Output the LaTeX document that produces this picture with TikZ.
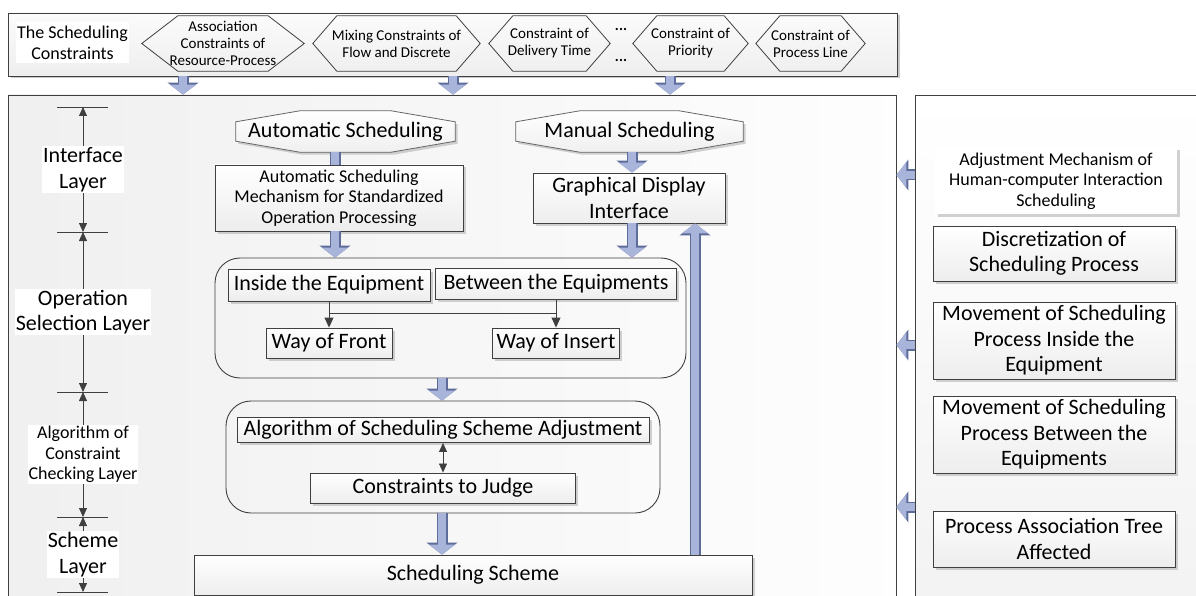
\documentclass[tikz,border=0pt]{standalone}
\usepackage{fontspec}
\setmainfont{Carlito}
\usetikzlibrary{arrows.meta,shadows,backgrounds}

\definecolor{blkfill}{HTML}{A9B4DA}
\definecolor{blkedge}{HTML}{5E6C9C}
\definecolor{lncol}{HTML}{3F3F3F}

\newcommand{\fbig}{\fontsize{22}{25.5}\selectfont}
\newcommand{\fmid}{\fontsize{18}{20.5}\selectfont}
\newcommand{\fsml}{\fontsize{15}{17}\selectfont}

% pointed hexagon round a node
\newcommand{\hexa}[2]{\draw[hexline] (#1.west) -- ([xshift=#2]#1.north west) -- ([xshift=-#2]#1.north east) -- (#1.east) -- ([xshift=-#2]#1.south east) -- ([xshift=#2]#1.south west) -- cycle;}
% flat octagon behind a node
\newcommand{\octa}[1]{\begin{scope}[on background layer]
\draw[octline] ([xshift=64pt]#1.north west) -- ([xshift=-64pt]#1.north east) -- ([yshift=-11pt]#1.north east) -- ([yshift=11pt]#1.south east) -- ([xshift=-64pt]#1.south east) -- ([xshift=64pt]#1.south west) -- ([yshift=11pt]#1.south west) -- ([yshift=-11pt]#1.north west) -- cycle;
\end{scope}}

\tikzset{
  panel/.style={draw=lncol, line width=0.9pt, inner sep=0pt},
  plainbox/.style={draw=lncol, line width=0.9pt, top color=white, bottom color=gray!14, inner sep=0pt, align=center, font=\fbig,
    drop shadow={shadow xshift=2.5pt, shadow yshift=-2.5pt, fill=gray!70, opacity=.5}},
  rbox/.style={draw=lncol, line width=0.9pt, rounded corners=25pt, inner sep=0pt},
  hexlbl/.style={inner sep=0pt, align=center, font=\fsml, minimum height=55pt},
  lbl/.style={fill=white, inner sep=1pt, align=center, font=\fbig},
  dimline/.style={draw=lncol, line width=0.8pt, {Triangle[width=8pt,length=9pt]}-{Triangle[width=8pt,length=9pt]}},
  conn/.style={draw=lncol, line width=0.9pt, -{Triangle[width=9pt,length=10pt]}},
  hexline/.style={draw=lncol, line width=0.8pt},
  octline/.style={draw=lncol!80, line width=0.8pt, top color=white, bottom color=gray!12,
    drop shadow={shadow xshift=2.5pt, shadow yshift=-2.5pt, fill=gray!70, opacity=.5}},
  blk/.style={draw=blkfill, line width=8.5pt, -{Triangle[width=26pt,length=10pt]},
    preaction={draw=blkedge, line width=11pt, -{Triangle[width=30.5pt,length=12pt]}}},
  blkshaft/.style={draw=blkfill, line width=8.5pt, preaction={draw=blkedge, line width=11pt}},
}

\begin{document}
\begin{tikzpicture}[x=1pt,y=-1pt]
\useasboundingbox (0,0) rectangle (1196,596);

% frames
\begin{scope}[on background layer]
\node[panel, top color=gray!3, bottom color=gray!13, minimum width=889pt, minimum height=63pt,
  drop shadow={shadow xshift=2.5pt, shadow yshift=-2.5pt, fill=gray!70, opacity=.6}] (cons) at (452.5,44.5) {};
\node[panel, left color=gray!12, right color=gray!1, minimum width=888pt, minimum height=525pt] (main) at (452,357.5) {};
\node[panel, top color=white, bottom color=gray!10, minimum width=305pt, minimum height=525pt] (side) at (1067.5,357.5) {};
\end{scope}

% the scheduling constraints
\node[lbl, font=\fmid, inner sep=0pt, minimum width=113pt, minimum height=41pt] (title) at (72.5,43) {The Scheduling\\Constraints};
\node[hexlbl, minimum width=162pt] (c1) at (223,43.5) {Association\\Constraints of\\Resource-Process};
\node[hexlbl, minimum width=167pt] (c2) at (396.5,43.5) {Mixing Constraints of\\Flow and Discrete};
\node[hexlbl, minimum width=121pt] (c3) at (549.5,43.5) {Constraint of\\Delivery Time};
\node[font=\fsml\bfseries] (dotsA) at (621,29) {...};
\node[font=\fsml\bfseries] (dotsB) at (621,60) {...};
\node[hexlbl, minimum width=115pt] (c4) at (690.5,43.5) {Constraint of\\Priority};
\node[hexlbl, minimum width=109pt] (c5) at (810.5,43.5) {Constraint of\\Process Line};
\hexa{c1}{36pt}
\foreach \c in {c2,c3,c4,c5} {\hexa{\c}{24pt}}

% layers
\coordinate (t1) at (83,107);
\coordinate (t2) at (83,232);
\coordinate (t3) at (83,392);
\coordinate (t4) at (83,517);
\coordinate (t5) at (83,592);
\foreach \i in {1,...,5} \draw[lncol, line width=0.8pt] ([xshift=-26pt]t\i) -- ([xshift=25pt]t\i);
\draw[dimline] (t1) -- node[lbl] (lyrA) {Interface\\Layer} (t2);
\draw[dimline] (t2) -- node[lbl] (lyrB) {Operation\\Selection Layer} (t3);
\draw[dimline] (t3) -- node[lbl, font=\fmid] (lyrC) {Algorithm of\\Constraint\\Checking Layer} (t4);
\draw[dimline] (t4) -- node[lbl] (lyrD) {Scheme\\Layer} (t5);

% scheduling flow
\node[inner sep=0pt, font=\fbig, minimum width=219pt, minimum height=41pt] (auto) at (345.5,131.5) {Automatic Scheduling};
\node[inner sep=0pt, font=\fbig, minimum width=227pt, minimum height=41pt] (manual) at (629.5,131.5) {Manual Scheduling};
\octa{auto}
\octa{manual}
\node[plainbox, font=\fmid, minimum width=248pt, minimum height=66pt] (mech) at (339,198) {Automatic Scheduling\\Mechanism for Standardized\\Operation Processing};
\node[plainbox, minimum width=192pt, minimum height=50pt] (gdi) at (629,198) {Graphical Display\\Interface};
\node[rbox, minimum width=471pt, minimum height=120pt] (opsel) at (450.5,318) {};
\node[plainbox, minimum width=202pt, minimum height=32pt] (inside) at (329,285) {Inside the Equipment};
\node[plainbox, minimum width=241pt, minimum height=31pt] (between) at (556,283.5) {Between the Equipments};
\node[plainbox, minimum width=126pt, minimum height=30pt] (front) at (329,343) {Way of Front};
\node[plainbox, minimum width=127pt, minimum height=30pt] (insert) at (556,343) {Way of Insert};
\node[rbox, minimum width=434pt, minimum height=112pt] (check) at (443,457) {};
\node[plainbox, minimum width=412pt, minimum height=25pt] (adjalg) at (443,430) {Algorithm of Scheduling Scheme Adjustment};
\node[plainbox, minimum width=265pt, minimum height=30pt] (judge) at (443,488) {Constraints to Judge};
\node[plainbox, minimum width=558pt, minimum height=40pt] (scheme) at (473,575) {Scheduling Scheme};

% adjustment column
\node[fill=white, inner sep=0pt, align=center, font=\fmid, minimum width=242pt, minimum height=66pt,
  drop shadow={shadow xshift=2.5pt, shadow yshift=-2.5pt, fill=gray!70, opacity=.5}] (adj) at (1056,181) {Adjustment Mechanism of\\Human-computer Interaction\\Scheduling};
\node[plainbox, minimum width=242pt, minimum height=55pt] (disc) at (1054,253.5) {Discretization of\\Scheduling Process};
\node[plainbox, minimum width=242pt, minimum height=77pt] (mvin) at (1054,340.5) {Movement of Scheduling\\Process Inside the\\Equipment};
\node[plainbox, minimum width=242pt, minimum height=77pt] (mvbt) at (1054,434.5) {Movement of Scheduling\\Process Between the\\Equipments};
\node[plainbox, minimum width=242pt, minimum height=56pt] (tree) at (1054,539) {Process Association Tree\\Affected};

% block arrows
\foreach \x in {183,453,670} \draw[blk] (\x,0 |- cons.south) -- (\x,0 |- main.north);
\draw[blkshaft] (335,0 |- auto.south) -- (335,0 |- mech.north);
\draw[blk] (335,0 |- mech.south) -- (335,0 |- opsel.north);
\draw[blk] (632,0 |- manual.south) -- (632,0 |- gdi.north);
\draw[blk] (632,0 |- gdi.south) -- (632,0 |- opsel.north);
\draw[blk] (442,0 |- opsel.south) -- (442,0 |- check.north);
\draw[blk] (442,0 |- check.south) -- (442,0 |- scheme.north);
\draw[blk] (695,0 |- scheme.north) -- (695,0 |- gdi.south);
\foreach \y in {175,345,507} \draw[blk] (side.west |- 0,\y) -- (main.east |- 0,\y);

% thin connectors
\coordinate (fork) at (0,313);
\draw[lncol, line width=0.9pt] (inside.south |- fork) -- (insert.north |- fork);
\draw[conn] (inside.south) -- (front.north);
\draw[conn] (between.south) -- (insert.north);
\draw[dimline] (adjalg.south) -- (judge.north);
\end{tikzpicture}
\end{document}
